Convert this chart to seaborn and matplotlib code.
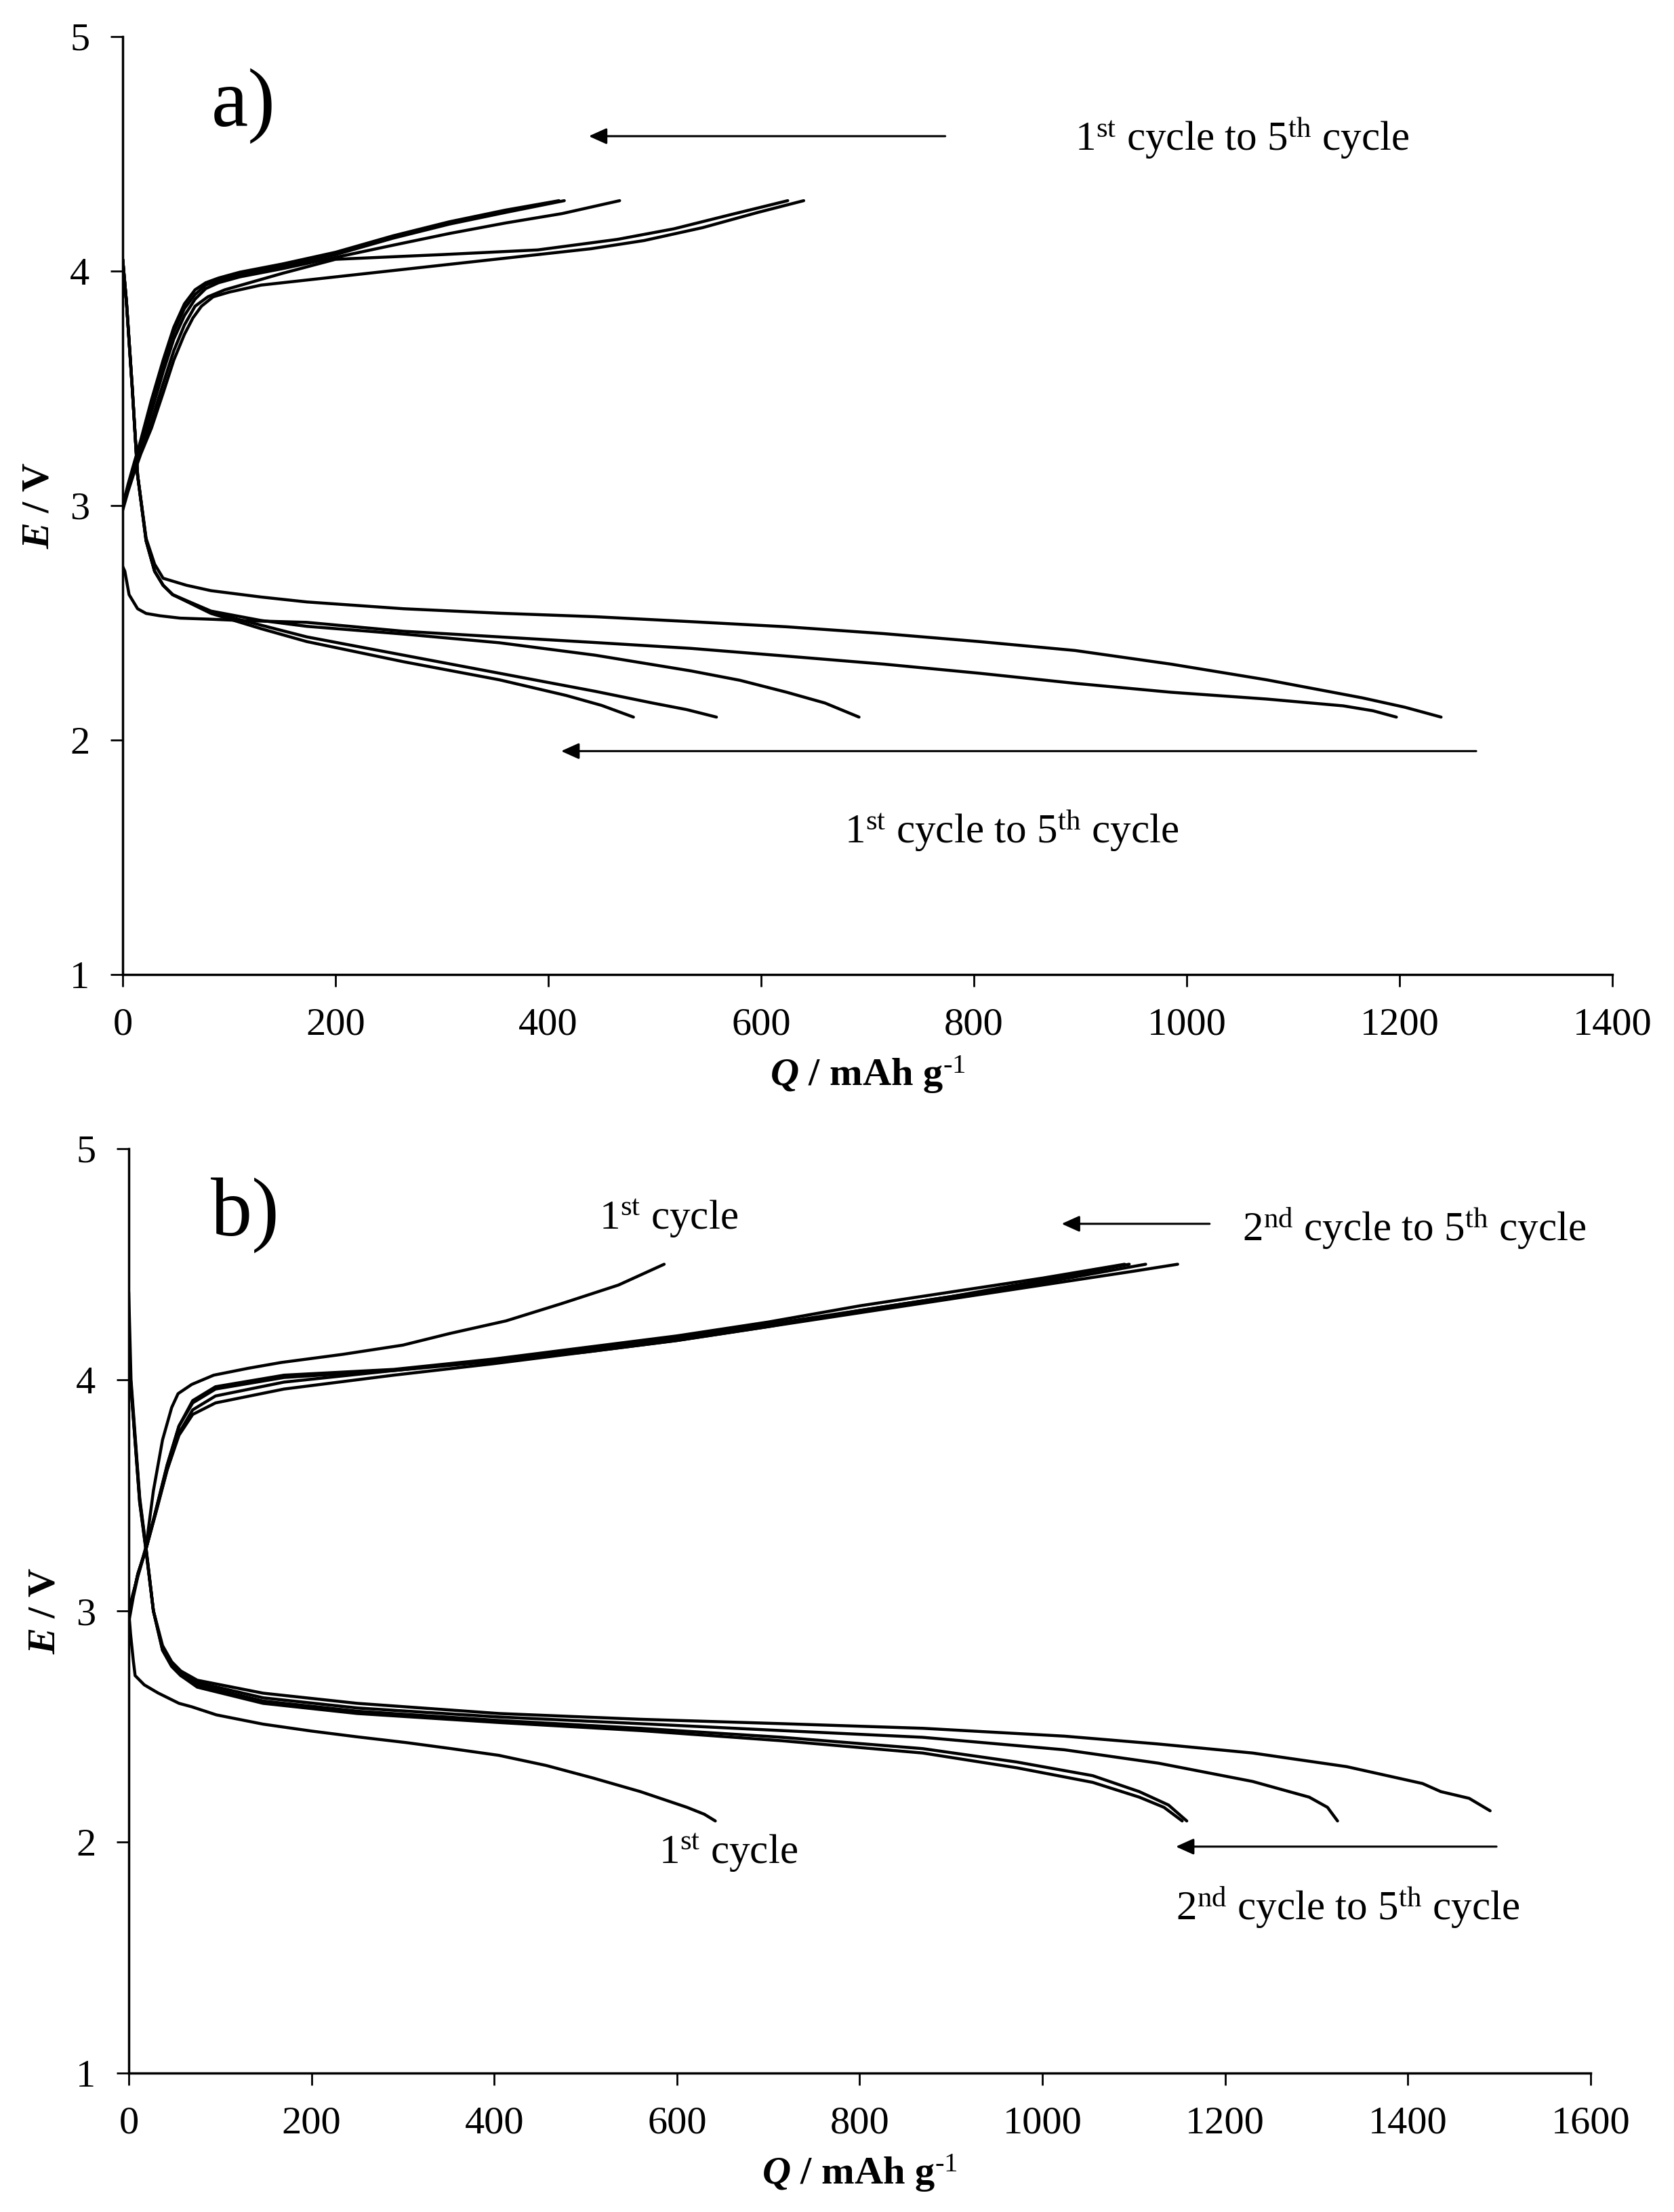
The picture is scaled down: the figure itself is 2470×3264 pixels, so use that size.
import numpy as np
import pandas as pd
import matplotlib
matplotlib.use("Agg")
import matplotlib.pyplot as plt
import seaborn as sns

# ---- panel a: charge / discharge, cycles 1-5 ----
a_c1_q = [0, 5, 10, 17, 27, 38, 48, 58, 66, 74, 85, 100, 130, 200, 300, 390, 440, 490, 545, 597, 640]
a_c1_e = [2.98, 3.06, 3.13, 3.22, 3.33, 3.48, 3.62, 3.73, 3.80, 3.85, 3.89, 3.91, 3.94, 3.975, 4.025, 4.07, 4.095, 4.13, 4.185, 4.25, 4.30]
a_c2_q = [0, 5, 10, 17, 27, 38, 48, 58, 68, 80, 96, 150, 200, 300, 390, 465, 518, 571, 625]
a_c2_e = [3.0, 3.07, 3.14, 3.23, 3.36, 3.52, 3.66, 3.77, 3.85, 3.89, 3.92, 3.99, 4.05, 4.07, 4.09, 4.135, 4.18, 4.24, 4.30]
a_c3_q = [0, 5, 10, 17, 27, 38, 48, 58, 68, 78, 90, 110, 150, 202, 254, 307, 360, 413, 467]
a_c3_e = [3.0, 3.08, 3.15, 3.25, 3.40, 3.57, 3.71, 3.81, 3.88, 3.925, 3.95, 3.975, 4.01, 4.06, 4.11, 4.16, 4.205, 4.245, 4.30]
a_c4_q = [0, 5, 10, 17, 27, 38, 48, 58, 68, 78, 90, 110, 150, 200, 254, 307, 360, 415]
a_c4_e = [3.0, 3.08, 3.16, 3.27, 3.43, 3.60, 3.74, 3.84, 3.90, 3.94, 3.96, 3.985, 4.02, 4.07, 4.14, 4.20, 4.25, 4.30]
a_c5_q = [0, 5, 10, 17, 27, 38, 48, 58, 68, 78, 90, 110, 150, 200, 254, 307, 360, 410]
a_c5_e = [3.0, 3.09, 3.17, 3.28, 3.45, 3.62, 3.76, 3.86, 3.92, 3.95, 3.97, 3.995, 4.03, 4.08, 4.15, 4.21, 4.26, 4.30]

a_d1_q = [0, 3.5, 9, 14, 22, 30, 38, 60, 83, 130, 173, 264, 354, 444, 534, 624, 715, 805, 895, 985, 1075, 1130, 1165, 1205, 1239]
a_d1_e = [4.05, 3.87, 3.50, 3.13, 2.86, 2.75, 2.69, 2.66, 2.637, 2.61, 2.589, 2.56, 2.541, 2.526, 2.505, 2.483, 2.454, 2.42, 2.382, 2.324, 2.257, 2.21, 2.18, 2.14, 2.098]
a_d2_q = [0, 2, 6, 14, 22, 35, 54, 85, 110, 173, 264, 354, 444, 534, 624, 715, 805, 895, 985, 1075, 1147, 1175, 1197]
a_d2_e = [2.74, 2.72, 2.62, 2.56, 2.54, 2.53, 2.52, 2.515, 2.51, 2.502, 2.464, 2.44, 2.416, 2.391, 2.358, 2.324, 2.285, 2.242, 2.204, 2.175, 2.146, 2.125, 2.098]
a_d3_q = [0, 3.5, 9, 14, 22, 30, 38, 47, 83, 130, 173, 264, 354, 444, 534, 580, 624, 660, 692]
a_d3_e = [4.05, 3.87, 3.50, 3.13, 2.85, 2.72, 2.66, 2.62, 2.55, 2.51, 2.485, 2.452, 2.415, 2.362, 2.295, 2.255, 2.204, 2.158, 2.098]
a_d4_q = [0, 3.5, 9, 14, 22, 30, 38, 47, 83, 130, 173, 264, 354, 444, 498, 530, 558]
a_d4_e = [4.05, 3.87, 3.50, 3.13, 2.85, 2.72, 2.66, 2.62, 2.545, 2.49, 2.44, 2.362, 2.285, 2.208, 2.158, 2.13, 2.098]
a_d5_q = [0, 3.5, 9, 14, 22, 30, 38, 47, 83, 130, 173, 264, 354, 417, 450, 480]
a_d5_e = [4.05, 3.87, 3.50, 3.13, 2.85, 2.72, 2.66, 2.62, 2.54, 2.475, 2.42, 2.334, 2.257, 2.19, 2.148, 2.098]

# ---- panel b ----
b_c1_q = [0, 5, 12, 19, 27, 37, 47, 54, 69, 93, 131, 167, 234, 300, 351, 413, 474, 536, 586]
b_c1_e = [3.0, 3.08, 3.18, 3.28, 3.52, 3.74, 3.88, 3.94, 3.98, 4.02, 4.05, 4.075, 4.11, 4.15, 4.20, 4.255, 4.33, 4.41, 4.50]
b_c2_q = [0, 5, 10, 19, 30, 42, 55, 70, 95, 170, 290, 400, 500, 600, 700, 800, 900, 1000, 1100, 1148]
b_c2_e = [2.95, 3.06, 3.15, 3.27, 3.43, 3.61, 3.76, 3.85, 3.90, 3.96, 4.02, 4.07, 4.12, 4.17, 4.23, 4.29, 4.35, 4.41, 4.47, 4.50]
b_c3_q = [0, 5, 10, 19, 30, 42, 55, 70, 95, 170, 290, 400, 500, 600, 700, 800, 900, 1000, 1113]
b_c3_e = [3.0, 3.07, 3.16, 3.27, 3.43, 3.61, 3.77, 3.87, 3.93, 3.99, 4.04, 4.085, 4.13, 4.18, 4.24, 4.30, 4.36, 4.42, 4.50]
b_c4_q = [0, 5, 10, 19, 30, 42, 55, 70, 95, 170, 290, 400, 500, 600, 700, 800, 900, 1000, 1095]
b_c4_e = [3.0, 3.07, 3.16, 3.27, 3.44, 3.63, 3.80, 3.90, 3.96, 4.01, 4.04, 4.08, 4.12, 4.17, 4.23, 4.30, 4.36, 4.43, 4.50]
b_c5_q = [0, 5, 10, 19, 30, 42, 55, 70, 95, 170, 290, 400, 500, 600, 700, 800, 900, 1000, 1090]
b_c5_e = [3.0, 3.07, 3.16, 3.27, 3.44, 3.63, 3.80, 3.91, 3.97, 4.02, 4.045, 4.09, 4.14, 4.19, 4.25, 4.32, 4.38, 4.44, 4.50]

b_d1_q = [0, 2, 5, 7, 17, 32, 55, 69, 96, 147, 200, 250, 304, 353, 405, 457, 508, 560, 611, 630, 642]
b_d1_e = [3.0, 2.90, 2.785, 2.72, 2.68, 2.645, 2.60, 2.585, 2.55, 2.51, 2.48, 2.455, 2.43, 2.404, 2.375, 2.331, 2.277, 2.218, 2.15, 2.12, 2.091]
b_d2_q = [0, 2.5, 12, 19, 27, 37, 47, 57, 75, 147, 250, 405, 560, 715, 869, 1024, 1127, 1230, 1333, 1416, 1436, 1467, 1490]
b_d2_e = [4.38, 4.0, 3.49, 3.27, 3.0, 2.85, 2.78, 2.74, 2.70, 2.644, 2.60, 2.556, 2.531, 2.512, 2.492, 2.458, 2.424, 2.385, 2.326, 2.253, 2.218, 2.189, 2.135]
b_d3_q = [0, 2.5, 12, 19, 27, 37, 47, 57, 75, 147, 250, 405, 560, 715, 869, 1024, 1127, 1230, 1292, 1312, 1323]
b_d3_e = [4.1, 3.98, 3.48, 3.27, 3.0, 2.84, 2.77, 2.73, 2.69, 2.624, 2.58, 2.541, 2.512, 2.482, 2.453, 2.399, 2.341, 2.262, 2.194, 2.15, 2.091]
b_d4_q = [0, 2.5, 12, 19, 27, 37, 47, 57, 75, 147, 250, 405, 560, 715, 869, 972, 1055, 1106, 1138, 1158]
b_d4_e = [4.1, 3.97, 3.47, 3.26, 3.0, 2.83, 2.76, 2.72, 2.68, 2.61, 2.566, 2.526, 2.492, 2.453, 2.404, 2.346, 2.287, 2.218, 2.16, 2.091]
b_d5_q = [0, 2.5, 12, 19, 27, 37, 47, 57, 75, 147, 250, 405, 560, 715, 869, 972, 1055, 1106, 1133, 1153]
b_d5_e = [4.1, 3.97, 3.47, 3.26, 3.0, 2.83, 2.76, 2.72, 2.67, 2.60, 2.556, 2.517, 2.482, 2.438, 2.385, 2.321, 2.258, 2.194, 2.15, 2.091]

a_xticks = [0, 200, 400, 600, 800, 1000, 1200, 1400]
b_xticks = [0, 200, 400, 600, 800, 1000, 1200, 1400, 1600]
yticks = [1, 2, 3, 4, 5]


def to_frame(curves):
    rows = []
    for name, (q, e) in curves.items():
        rows.append(pd.DataFrame({"curve": name, "Q": q, "E": e}))
    return pd.concat(rows, ignore_index=True)


df_a = to_frame({
    "c1": (a_c1_q, a_c1_e), "c2": (a_c2_q, a_c2_e), "c3": (a_c3_q, a_c3_e),
    "c4": (a_c4_q, a_c4_e), "c5": (a_c5_q, a_c5_e),
    "d1": (a_d1_q, a_d1_e), "d2": (a_d2_q, a_d2_e), "d3": (a_d3_q, a_d3_e),
    "d4": (a_d4_q, a_d4_e), "d5": (a_d5_q, a_d5_e),
})
df_b = to_frame({
    "c1": (b_c1_q, b_c1_e), "c2": (b_c2_q, b_c2_e), "c3": (b_c3_q, b_c3_e),
    "c4": (b_c4_q, b_c4_e), "c5": (b_c5_q, b_c5_e),
    "d1": (b_d1_q, b_d1_e), "d2": (b_d2_q, b_d2_e), "d3": (b_d3_q, b_d3_e),
    "d4": (b_d4_q, b_d4_e), "d5": (b_d5_q, b_d5_e),
})

sns.set_theme(style="ticks")
plt.rcParams["font.family"] = ["Liberation Serif", "DejaVu Serif"]
plt.rcParams["text.color"] = "black"
plt.rcParams["axes.labelcolor"] = "black"
plt.rcParams["mathtext.fontset"] = "custom"
plt.rcParams["mathtext.rm"] = "Liberation Serif"
plt.rcParams["mathtext.it"] = "Liberation Serif:italic"
plt.rcParams["mathtext.bf"] = "Liberation Serif:bold"
plt.rcParams["mathtext.bfit"] = "Liberation Serif:italic:bold"

fig = plt.figure(figsize=(24.7, 32.64), dpi=100)
ax_a = fig.add_axes([0.0733, 0.5594, 0.8899, 0.4241])
ax_b = fig.add_axes([0.0769, 0.0628, 0.8733, 0.4179])

arrow_kw = dict(arrowstyle="-|>,head_length=0.8,head_width=0.36", color="black",
                lw=2.2, mutation_scale=20, shrinkA=0, shrinkB=0)
txt_size = 44


def style_axis(ax, xmax, xticks):
    ax.set_xlim(0, xmax)
    ax.set_ylim(1, 5)
    ax.set_xticks(xticks)
    ax.set_yticks(yticks)
    sns.despine(ax=ax)
    for s in ["left", "bottom"]:
        ax.spines[s].set_linewidth(2.5)
        ax.spines[s].set_color("black")
    ax.tick_params(direction="out", length=13, width=2, labelsize=42, pad=22,
                   colors="black", labelcolor="black")
    ax.set_xlabel(r"$\mathbfit{Q}$ / mAh g$^{\text{-1}}$", fontsize=42, fontweight="bold", labelpad=12)
    ax.set_ylabel(r"$\mathbfit{E}$ / V", fontsize=42, fontweight="bold", labelpad=14)


for ax, df in [(ax_a, df_a), (ax_b, df_b)]:
    sns.lineplot(data=df, x="Q", y="E", units="curve", estimator=None, sort=False,
                 color="black", lw=3.2, ax=ax, legend=False)

style_axis(ax_a, 1400, a_xticks)
style_axis(ax_b, 1600, b_xticks)

# panel a annotations
ax_a.text(83, 4.62, "a)", fontsize=88, ha="left", va="baseline")
ax_a.annotate("", xy=(438, 4.575), xytext=(773, 4.575), arrowprops=arrow_kw)
ax_a.text(895, 4.514, r"1$^{\mathrm{st}}$ cycle to 5$^{\mathrm{th}}$ cycle", fontsize=txt_size,
          ha="left", va="baseline")
ax_a.annotate("", xy=(412, 1.953), xytext=(1272, 1.953), arrowprops=arrow_kw)
ax_a.text(678, 1.561, r"1$^{\mathrm{st}}$ cycle to 5$^{\mathrm{th}}$ cycle", fontsize=txt_size,
          ha="left", va="baseline")

# panel b annotations
ax_b.text(90, 4.625, "b)", fontsize=88, ha="left", va="baseline")
ax_b.text(515, 4.65, r"1$^{\mathrm{st}}$ cycle", fontsize=txt_size, ha="left", va="baseline")
ax_b.annotate("", xy=(1021, 4.675), xytext=(1183, 4.675), arrowprops=arrow_kw)
ax_b.text(1219, 4.60, r"2$^{\mathrm{nd}}$ cycle to 5$^{\mathrm{th}}$ cycle", fontsize=txt_size,
          ha="left", va="baseline")
ax_b.text(580, 1.906, r"1$^{\mathrm{st}}$ cycle", fontsize=txt_size, ha="left", va="baseline")
ax_b.annotate("", xy=(1146, 1.98), xytext=(1497, 1.98), arrowprops=arrow_kw)
ax_b.text(1146, 1.663, r"2$^{\mathrm{nd}}$ cycle to 5$^{\mathrm{th}}$ cycle", fontsize=txt_size,
          ha="left", va="baseline")

fig.savefig("out.png", dpi=100, facecolor="white")
